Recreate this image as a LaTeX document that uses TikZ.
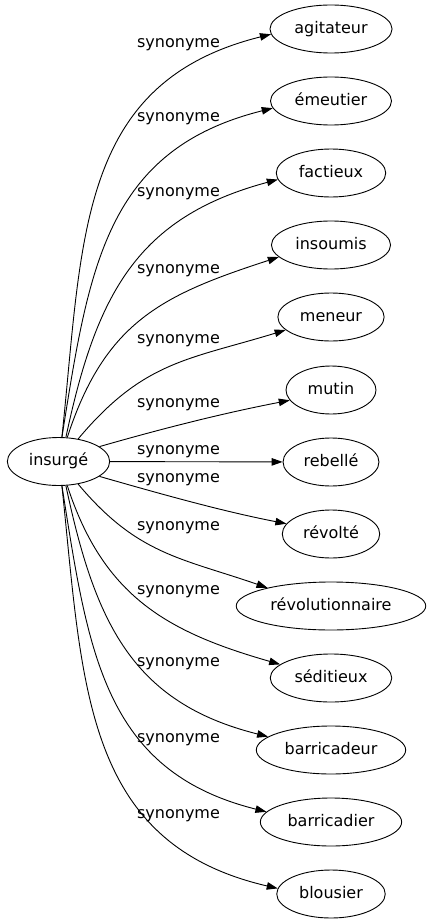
\documentclass[tikz,border=0pt]{standalone}
\usepackage{fontspec}
\setmainfont{DejaVu Sans}
\usetikzlibrary{arrows.meta,shapes}
\tikzstyle{word} = [ellipse, draw, line width=0.9pt, inner xsep=6.5pt, inner ysep=2pt, minimum width=90pt, minimum height=48pt, text height=12pt, text depth=3.5pt]
\tikzstyle{lbl} = [inner sep=0pt]
\tikzstyle{arrow} = [line width=0.9pt,-{Triangle[length=11pt,width=7.5pt]}]

\begin{document}
\begin{tikzpicture}[x=1pt, y=1pt, font=\fontsize{16}{19}\selectfont]
    \useasboundingbox (0,0) rectangle (431,-923);

    % Source word
    \node[word] (ins) at (58.5, -461.5) {insurgé};

    % Synonyms
    \node[word] (agit) at (331, -29) {agitateur};
    \node[word] (emeu) at (331, -101) {émeutier};
    \node[word] (fact) at (331, -173) {factieux};
    \node[word] (inso) at (331, -245) {insoumis};
    \node[word] (mene) at (331, -317) {meneur};
    \node[word] (muti) at (331, -390) {mutin};
    \node[word] (rebe) at (331, -462) {rebellé};
    \node[word] (revo) at (331, -534) {révolté};
    \node[word] (revn) at (331, -606) {révolutionnaire};
    \node[word] (sedi) at (331, -678) {séditieux};
    \node[word] (bdeu) at (331, -750) {barricadeur};
    \node[word] (bdie) at (331, -822) {barricadier};
    \node[word] (blou) at (331, -894) {blousier};

    % Edge labels
    \node[lbl] (l1) at (178.5, -45) {synonyme};
    \node[lbl] (l2) at (178.5, -119) {synonyme};
    \node[lbl] (l3) at (178.5, -194) {synonyme};
    \node[lbl] (l4) at (178.5, -271) {synonyme};
    \node[lbl] (l5) at (178.5, -341) {synonyme};
    \node[lbl] (l6) at (178.5, -405) {synonyme};
    \node[lbl] (l7) at (178.5, -452) {synonyme};
    \node[lbl] (l8) at (178.5, -480) {synonyme};
    \node[lbl] (l9) at (178.5, -528) {synonyme};
    \node[lbl] (l10) at (178.5, -592) {synonyme};
    \node[lbl] (l11) at (178.5, -664) {synonyme};
    \node[lbl] (l12) at (178.5, -740) {synonyme};
    \node[lbl] (l13) at (178.5, -816) {synonyme};

    % Edges, upper fan
    \draw[arrow] (ins.82) .. controls +(84:200) and +(194:200) .. (agit.185);
    \draw[arrow] (ins.82) .. controls +(81:172) and +(194:172) .. (emeu.187);
    \draw[arrow] (ins.73) .. controls +(78:146) and +(195:146) .. (fact.187);
    \draw[arrow] (ins.70) .. controls +(72:122) and +(198:122) .. (inso.193);
    \draw[arrow] (ins.49) .. controls +(50:102) and +(197:102) .. (mene.196);
    \draw[arrow] (ins.20) .. controls +(16:68) and +(191:68) .. (muti.194);
    % straight one
    \draw[arrow] (ins) -- (rebe);
    % Edges, lower fan
    \draw[arrow] (ins.-20) .. controls +(-16:65) and +(169:65) .. (revo.167);
    \draw[arrow] (ins.-49) .. controls +(-50:92) and +(161:92) .. (revn.164);
    \draw[arrow] (ins.-70) .. controls +(-72:117) and +(164:117) .. (sedi.165);
    \draw[arrow] (ins.-73) .. controls +(-78:140) and +(166:140) .. (bdeu.168);
    \draw[arrow] (ins.-82) .. controls +(-81:168) and +(166:168) .. (bdie.171);
    \draw[arrow] (ins.-82) .. controls +(-84:200) and +(167:200) .. (blou.174);
\end{tikzpicture}
\end{document}
